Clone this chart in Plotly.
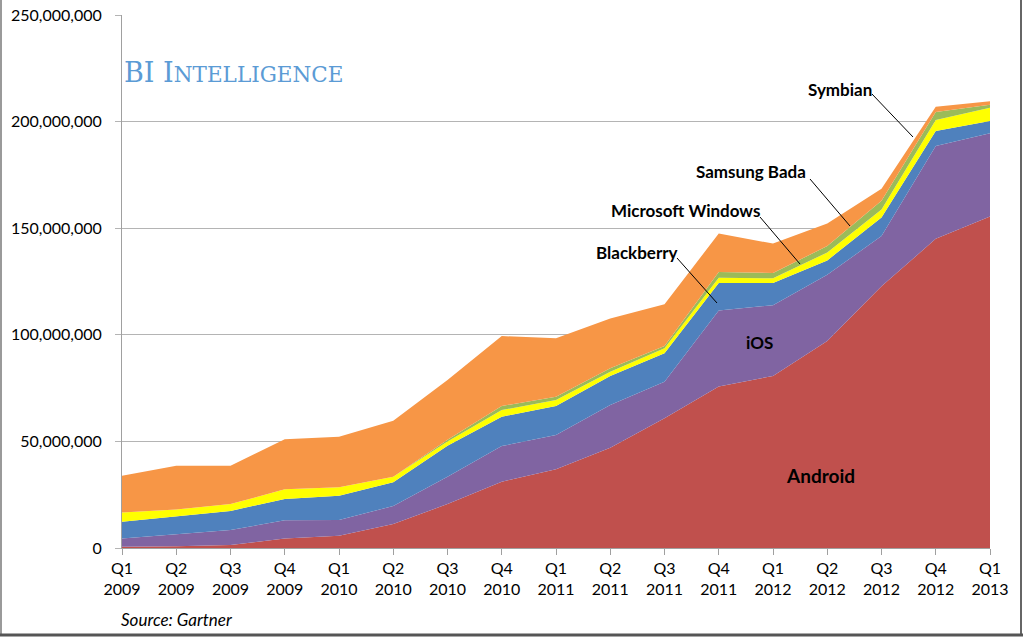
import plotly.graph_objects as go

quarters = ["Q1<br>2009", "Q2<br>2009", "Q3<br>2009", "Q4<br>2009",
            "Q1<br>2010", "Q2<br>2010", "Q3<br>2010", "Q4<br>2010",
            "Q1<br>2011", "Q2<br>2011", "Q3<br>2011", "Q4<br>2011",
            "Q1<br>2012", "Q2<br>2012", "Q3<br>2012", "Q4<br>2012",
            "Q1<br>2013"]

# Units sold, millions
android = [0.6, 0.8, 1.4, 4.5, 5.8, 11.3, 20.6, 31.1, 36.9, 47.0, 60.8, 75.7, 80.7, 97.1, 122.8, 145.0, 155.5]
ios = [3.9, 5.8, 7.0, 8.5, 7.3, 8.4, 12.8, 16.7, 16.1, 20.1, 17.2, 35.7, 33.2, 31.1, 23.5, 43.6, 39.0]
blackberry = [7.8, 8.1, 9.0, 10.0, 11.4, 11.1, 14.6, 13.8, 13.6, 13.6, 13.3, 12.9, 10.4, 6.7, 8.7, 7.0, 5.8]
windows = [4.3, 3.4, 3.2, 4.5, 4.0, 2.6, 1.9, 3.1, 2.8, 2.0, 2.4, 2.5, 2.2, 3.7, 3.8, 5.2, 6.2]
bada = [0.0, 0.0, 0.0, 0.0, 0.0, 0.0, 0.9, 1.9, 1.6, 1.6, 1.0, 2.7, 2.5, 3.0, 4.1, 3.7, 1.4]
symbian = [17.3, 20.5, 18.0, 23.5, 23.7, 26.3, 28.0, 32.8, 27.4, 23.4, 19.6, 18.0, 13.8, 10.6, 5.6, 2.5, 1.7]

series = [
    ("Android", android, "#c0504d"),
    ("iOS", ios, "#8064a2"),
    ("Blackberry", blackberry, "#4f81bd"),
    ("Microsoft Windows", windows, "#ffff00"),
    ("Samsung Bada", bada, "#9bbb59"),
    ("Symbian", symbian, "#f79646"),
]

y_ticks = [0, 50_000_000, 100_000_000, 150_000_000, 200_000_000, 250_000_000]
y_tick_text = ["0", "50,000,000", "100,000,000", "150,000,000", "200,000,000", "250,000,000"]

FONT = "Lato"

fig = go.Figure()
for name, vals, color in series:
    fig.add_trace(go.Scatter(
        x=quarters, y=[v * 1_000_000 for v in vals], name=name,
        mode="lines", stackgroup="one", line=dict(width=0, color=color),
        fillcolor=color, hoverinfo="x+y+name",
    ))

L, R, T, B = 122, 33, 15, 89
W, H = 1023, 637
pw, ph = W - L - R, H - T - B


def px(x):
    return (x - L) / pw


def py(y):
    return (H - B - y) / ph


fig.update_layout(
    width=W, height=H,
    margin=dict(l=L, r=R, t=T, b=B, pad=0),
    paper_bgcolor="white", plot_bgcolor="white",
    showlegend=False,
    font=dict(family=FONT, size=16, color="black"),
    xaxis=dict(
        type="category", range=[0, 16], showgrid=False, automargin=False,
        showline=True, linecolor="#a0a0a0", linewidth=1,
        ticks="outside", ticklen=6, tickcolor="#a0a0a0",
        tickfont=dict(family=FONT, size=16, color="black"),
        fixedrange=True,
    ),
    yaxis=dict(
        range=[0, 250_000_000], tickvals=y_ticks, ticktext=y_tick_text,
        automargin=False,
        showgrid=True, gridcolor="#b4b4b4", gridwidth=1,
        showline=True, linecolor="#a0a0a0", linewidth=1,
        ticks="outside", ticklen=6, tickcolor="#b4b4b4", ticklabelstandoff=10,
        tickfont=dict(family=FONT, size=16, color="black"),
        zeroline=False, fixedrange=True,
    ),
)

# outer frame (left, right, bottom edges)
frame = [
    (1, 0, 1, H - 1, "#9a9a9a", 2),
    (W - 2, 0, W - 2, H - 1, "#666666", 2),
    (0, H - 2, W, H - 2, "#555555", 3),
]
for x0, y0, x1, y1, col, wd in frame:
    fig.add_shape(type="line", xref="paper", yref="paper",
                  x0=px(x0), y0=py(y0), x1=px(x1), y1=py(y1),
                  line=dict(color=col, width=wd), layer="above")

# BI Intelligence logo
fig.add_annotation(
    xref="paper", yref="paper", x=px(122), y=py(72), xanchor="left", yanchor="middle",
    text="BI I<span style='font-size:21.5px'>NTELLIGENCE</span>", showarrow=False,
    font=dict(family="DejaVu Serif", size=27, color="#5b9bd5"),
)

labels = [
    ("Symbian", 840, 89, 872, 94, 913, 137),
    ("Samsung Bada", 751, 171, 810, 179, 850, 226),
    ("Microsoft Windows", 685, 210, 760, 217, 800, 264),
    ("Blackberry", 637, 252, 677, 258, 717, 303),
]
for text, tx, ty, x0, y0, x1, y1 in labels:
    fig.add_annotation(xref="paper", yref="paper", x=px(tx), y=py(ty),
                       xanchor="center", yanchor="middle",
                       text=f"<b>{text}</b>", showarrow=False,
                       font=dict(family=FONT, size=17, color="black"))
    fig.add_shape(type="line", xref="paper", yref="paper",
                  x0=px(x0), y0=py(y0), x1=px(x1), y1=py(y1),
                  line=dict(color="black", width=1))

fig.add_annotation(xref="paper", yref="paper", x=px(759), y=py(342),
                   xanchor="center", yanchor="middle",
                   text="<b>iOS</b>", showarrow=False,
                   font=dict(family=FONT, size=17, color="black"))
fig.add_annotation(xref="paper", yref="paper", x=px(820), y=py(475),
                   xanchor="center", yanchor="middle",
                   text="<b>Android</b>", showarrow=False,
                   font=dict(family=FONT, size=19, color="black"))
fig.add_annotation(xref="paper", yref="paper", x=px(119), y=py(619),
                   xanchor="left", yanchor="middle",
                   text="<i>Source: Gartner</i>", showarrow=False,
                   font=dict(family=FONT, size=17, color="black"))

fig.write_html("out.html", config={"displayModeBar": False},
               post_script="document.body.style.margin='0';")
